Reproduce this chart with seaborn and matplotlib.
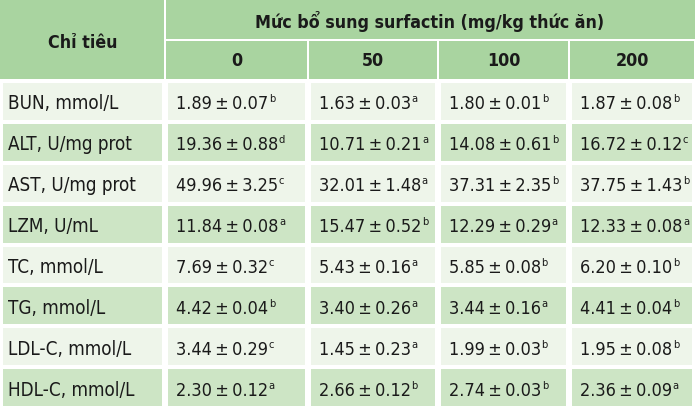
import matplotlib
matplotlib.use("Agg")
import matplotlib.pyplot as plt
from matplotlib.colors import ListedColormap
from matplotlib.patches import Rectangle
from matplotlib import font_manager
import pandas as pd
import seaborn as sns

# Bảng chỉ tiêu máu theo mức bổ sung surfactin
indicators = ["BUN, mmol/L", "ALT, U/mg prot", "AST, U/mg prot", "LZM, U/mL",
              "TC, mmol/L", "TG, mmol/L", "LDL-C, mmol/L", "HDL-C, mmol/L"]
levels = ["0", "50", "100", "200"]

means_0 = [1.89, 19.36, 49.96, 11.84, 7.69, 4.42, 3.44, 2.30]
sd_0 = [0.07, 0.88, 3.25, 0.08, 0.32, 0.04, 0.29, 0.12]
sig_0 = ["b", "d", "c", "a", "c", "b", "c", "a"]

means_50 = [1.63, 10.71, 32.01, 15.47, 5.43, 3.40, 1.45, 2.66]
sd_50 = [0.03, 0.21, 1.48, 0.52, 0.16, 0.26, 0.23, 0.12]
sig_50 = ["a", "a", "a", "b", "a", "a", "a", "b"]

means_100 = [1.80, 14.08, 37.31, 12.29, 5.85, 3.44, 1.99, 2.74]
sd_100 = [0.01, 0.61, 2.35, 0.29, 0.08, 0.16, 0.03, 0.03]
sig_100 = ["b", "b", "b", "a", "b", "a", "b", "b"]

means_200 = [1.87, 16.72, 37.75, 12.33, 6.20, 4.41, 1.95, 2.36]
sd_200 = [0.08, 0.12, 1.43, 0.08, 0.10, 0.04, 0.08, 0.09]
sig_200 = ["b", "c", "b", "a", "b", "b", "b", "a"]

title_row = "Chỉ tiêu"
title_group = "Mức bổ sung surfactin (mg/kg thức ăn)"

means = [means_0, means_50, means_100, means_200]
sds = [sd_0, sd_50, sd_100, sd_200]
sigs = [sig_0, sig_50, sig_100, sig_200]

# bố cục (pixel)
W, H = 700, 408
col_edges = [0, 165, 308, 438, 569, 695]
head1, head2 = 40, 80
row_h = (H - head2) / len(indicators)

header_c = "#a9d4a0"
light_c = "#eef5ea"
dark_c = "#cde5c5"
text_c = "#1a1a1a"

sns.set_theme(style="white")

# chọn font hẹp nếu có
names = {f.name for f in font_manager.fontManager.ttflist}
if "Liberation Sans Narrow" in names:
    plt.rcParams["font.family"] = ["Liberation Sans Narrow", "DejaVu Sans"]
    stretch = "normal"
else:
    plt.rcParams["font.family"] = ["DejaVu Sans"]
    stretch = "condensed"

fig = plt.figure(figsize=(W / 100, H / 100), dpi=100)
fig.patch.set_facecolor("white")

# nền các hàng dữ liệu: một heatmap cho mỗi cột
parity = pd.DataFrame({"p": [i % 2 for i in range(len(indicators))]})
cmap = ListedColormap([light_c, dark_c])
for j in range(len(col_edges) - 1):
    x0, x1 = col_edges[j] + 1, col_edges[j + 1] - 1
    axc = fig.add_axes([x0 / W, 0, (x1 - x0) / W, (H - head2 - 1) / H])
    sns.heatmap(parity, ax=axc, cmap=cmap, vmin=0, vmax=1, cbar=False,
                linewidths=1.5, linecolor="white",
                xticklabels=False, yticklabels=False)
    axc.set_axis_off()

# lớp trên cùng cho tiêu đề và chữ
ax = fig.add_axes([0, 0, 1, 1], facecolor="none")
ax.set_xlim(0, W)
ax.set_ylim(H, 0)
ax.set_axis_off()

ax.add_patch(Rectangle((0, 0), col_edges[1] - 1, head2 - 1, color=header_c, lw=0))
ax.add_patch(Rectangle((col_edges[1] + 1, 0), col_edges[-1] - col_edges[1] - 1, head1 - 1,
                       color=header_c, lw=0))
for j in range(1, len(col_edges) - 1):
    x0, x1 = col_edges[j] + 1, col_edges[j + 1] - 1
    ax.add_patch(Rectangle((x0, head1 + 1), x1 - x0, head2 - head1 - 2, color=header_c, lw=0))

fs_lab = 13.5
fs_num = 13
fs_h = 12.8
kw = dict(color=text_c, fontstretch=stretch)
ax.text(col_edges[1] / 2, head2 / 2 + 3, title_row, ha="center", va="center",
        fontsize=fs_h, fontweight="bold", **kw)
ax.text((col_edges[1] + col_edges[-1]) / 2, head1 / 2 + 1, title_group, ha="center",
        va="center", fontsize=fs_h, fontweight="bold", **kw)
for j, lv in enumerate(levels):
    xc = (col_edges[j + 1] + col_edges[j + 2]) / 2
    ax.text(xc, (head1 + head2) / 2 + 1, lv, ha="center", va="center",
            fontsize=fs_h, fontweight="bold", **kw)

renderer = fig.canvas.get_renderer()
inv = ax.transData.inverted()
for i, name in enumerate(indicators):
    yb = head2 + row_h * (i + 0.5) + 8.5
    ax.text(8, yb, name, ha="left", va="baseline", fontsize=fs_lab, **kw)
    for j in range(len(levels)):
        xl = col_edges[j + 1] + 11
        t = ax.text(xl, yb, f"{means[j][i]:.2f}\u2009±\u2009{sds[j][i]:.2f}", ha="left",
                    va="baseline", fontsize=fs_num, **kw)
        bb = t.get_window_extent(renderer)
        xr, _ = inv.transform((bb.x1, bb.y1))
        ax.text(xr + 0.5, yb - 15, sigs[j][i], ha="left", va="top",
                fontsize=8, **kw)

fig.savefig("out.png", dpi=100, facecolor="white")
